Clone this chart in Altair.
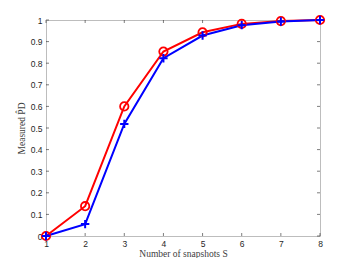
import altair as alt
import pandas as pd

S = [1, 2, 3, 4, 5, 6, 7, 8]
red_vals = [0.0, 0.138, 0.60, 0.854, 0.943, 0.982, 0.995, 1.0]
blue_vals = [0.0, 0.055, 0.519, 0.823, 0.928, 0.976, 0.993, 1.0]
x_ticks = [1, 2, 3, 4, 5, 6, 7, 8]
y_ticks = [0, 0.1, 0.2, 0.3, 0.4, 0.5, 0.6, 0.7, 0.8, 0.9, 1.0]

W, H = 274, 216

red = pd.DataFrame({"S": S, "v": red_vals})
blue = pd.DataFrame({"S": S, "v": blue_vals})
xt = pd.DataFrame({"t": x_ticks})
yt = pd.DataFrame({"t": y_ticks})

xs = alt.Scale(domain=[1, 8], nice=False)
ys = alt.Scale(domain=[0, 1], nice=False)

xaxis = alt.Axis(values=x_ticks, format="d", title="Number of snapshots S",
                 labelPadding=3, titlePadding=1)
yaxis = alt.Axis(values=y_ticks,
                 labelExpr="datum.value == 0 ? '0' : format(datum.value, '.1f') == '1.0' ? '1' : format(datum.value, '.1f')",
                 title="Measured P̂D", labelPadding=4, titlePadding=4)

tick_color = "#262626"
xt_bot = alt.Chart(xt).mark_rule(color=tick_color, strokeWidth=0.6).encode(
    x=alt.X("t:Q", scale=xs, axis=xaxis), y=alt.value(H), y2=alt.value(H - 3))
xt_top = alt.Chart(xt).mark_rule(color=tick_color, strokeWidth=0.6).encode(
    x=alt.X("t:Q", scale=xs, axis=xaxis), y=alt.value(0), y2=alt.value(3))
yt_left = alt.Chart(yt).mark_rule(color=tick_color, strokeWidth=0.6).encode(
    y=alt.Y("t:Q", scale=ys, axis=yaxis), x=alt.value(0), x2=alt.value(3))
yt_right = alt.Chart(yt).mark_rule(color=tick_color, strokeWidth=0.6).encode(
    y=alt.Y("t:Q", scale=ys, axis=yaxis), x=alt.value(W), x2=alt.value(W - 3))

def enc(ch):
    return ch.encode(x=alt.X("S:Q", scale=xs, axis=xaxis), y=alt.Y("v:Q", scale=ys, axis=yaxis))

red_line = enc(alt.Chart(red).mark_line(color="#ff0000", strokeWidth=2))
red_pts = enc(alt.Chart(red).mark_point(shape="circle", filled=False, color="#ff0000",
                                         size=70, strokeWidth=1.8, opacity=1))
blue_line = enc(alt.Chart(blue).mark_line(color="#0000ff", strokeWidth=2))
blue_pts = enc(alt.Chart(blue).mark_point(shape="M-1,0L1,0M0,-1L0,1", filled=False,
                                           color="#0000ff", size=70, strokeWidth=2, opacity=1))

chart = alt.layer(xt_bot, xt_top, yt_left, yt_right, red_line, blue_line, red_pts, blue_pts).properties(
    width=W, height=H,
    autosize=alt.AutoSizeParams(type="none"),
    padding={"left": 38, "top": 12, "right": 26, "bottom": 22},
    background="white",
).configure_view(stroke="#bdbdbd", strokeWidth=1).configure_axis(
    ticks=False, domain=False, grid=False, labelOverlap=False, labelFlush=False,
    labelFont="Liberation Sans", labelFontSize=8.5, labelColor="#262626",
    titleFont="Liberation Serif", titleFontSize=9.5, titleFontWeight="normal",
    titleColor="#404040",
)

chart.save("out.html", embed_options={"renderer": "svg", "actions": False})
